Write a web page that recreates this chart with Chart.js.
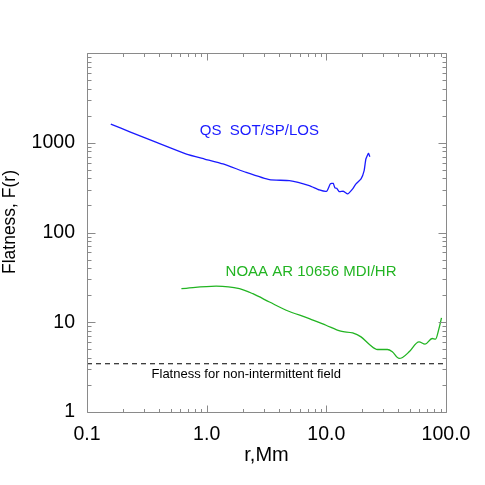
<!DOCTYPE html>
<html><head><meta charset="utf-8">
<script src="https://cdn.jsdelivr.net/npm/chart.js@4.4.1/dist/chart.umd.min.js"></script>
<style>html,body{margin:0;padding:0;background:#fff;}#wrap{width:485px;height:485px;}</style>
</head><body><div id="wrap"><canvas id="c" width="485" height="485"></canvas></div>
<script>
// ---- data ----
const qsR = [0.158, 0.228, 0.381, 0.678, 0.962, 1.37, 2.14, 3.35, 4.92, 7.2, 8.74, 10.06, 10.8, 11.4, 11.8, 12.2, 12.8, 13.9, 15.1, 16.6, 17.7, 19.5, 20.7, 21.4, 22.5, 23.1];
const qsF = [1614, 1325, 1008, 749, 659, 580, 468, 388, 378, 333, 298, 288, 348, 353, 314, 311, 285, 288, 269, 306, 348, 395, 489, 659, 761, 699];
const arR = [0.615, 1.2, 1.88, 2.43, 3.35, 4.62, 7.2, 9.94, 13.2, 16.6, 19.5, 22.8, 26.8, 32.4, 35.6, 40.6, 43.3, 49.2, 59.5, 66.8, 76.6, 81.8, 87.3, 91.7];
const arF = [23.7, 25.3, 23.7, 20.8, 16.8, 13.6, 11.0, 9.26, 7.94, 7.6, 6.87, 5.7, 4.97, 4.97, 4.68, 3.95, 4.05, 4.68, 6.04, 5.7, 6.59, 6.5, 8.5, 11.2];
const refR = [0.1, 100];
const refF = [3.45, 3.45];
const seriesNames = ['QS  SOT/SP/LOS', 'NOAA AR 10656 MDI/HR', 'Flatness for non-intermittent field'];
const xTickValues = [0.1, 1, 10, 100];
const xTickLabels = ['0.1', '1.0', '10.0', '100.0'];
const yTickValues = [1, 10, 100, 1000];
const yTickLabels = ['1', '10', '100', '1000'];
const xTitle = 'r,Mm';
const yTitle = 'Flatness, F(r)';

// ---- styling / layout ----
const FONT = "'Liberation Sans', Arial, Helvetica, sans-serif";
const FRAME = '#8a8a8a';
const BLUE = '#1a1aff';
const GREEN = '#22b422';

function pts(xs, ys){ return xs.map((x,i)=>({x:x, y:ys[i]})); }
function logTicks(min, max){
  const out = [];
  for (let e = Math.round(Math.log10(min)); e < Math.round(Math.log10(max)); e++){
    const b = Math.pow(10, e);
    for (let m = 1; m < 10; m++) out.push({value: +(m*b).toPrecision(6), major: m === 1});
  }
  out.push({value: max, major: true});
  return out;
}
function labelFor(vals, labs){
  return function(v){
    for (let i = 0; i < vals.length; i++) if (Math.abs(v - vals[i]) / vals[i] < 1e-6) return labs[i];
    return '';
  };
}

const annotations = [
  {text: seriesNames[0], x: 2.76, y: 1360, color: BLUE, size: 15},
  {text: seriesNames[1], x: 7.45, y: 36.5, color: GREEN, size: 15},
  {text: seriesNames[2], x: 2.14, y: 2.62, color: '#000', size: 13}
];

const framePlugin = {
  id: 'frameTicks',
  afterDatasetsDraw(chart){
    const {ctx, chartArea: a, scales: {x, y}} = chart;
    ctx.save();
    ctx.strokeStyle = FRAME; ctx.lineWidth = 1;
    const L = Math.round(a.left) + 0.5, R = Math.round(a.right) + 0.5;
    const T = Math.round(a.top) + 0.5, B = Math.round(a.bottom) + 0.5;
    ctx.beginPath();
    ctx.rect(L, T, R - L, B - T);
    x.ticks.forEach(t => {
      const p = Math.round(x.getPixelForValue(t.value)) + 0.5;
      const len = t.major ? 7 : 3.5;
      ctx.moveTo(p, B); ctx.lineTo(p, B - len);
      ctx.moveTo(p, T); ctx.lineTo(p, T + len);
    });
    y.ticks.forEach(t => {
      const p = Math.round(y.getPixelForValue(t.value)) + 0.5;
      const len = t.major ? 8 : 4;
      ctx.moveTo(L, p); ctx.lineTo(L + len, p);
      ctx.moveTo(R, p); ctx.lineTo(R - len, p);
    });
    ctx.stroke();
    // annotations
    ctx.textAlign = 'center'; ctx.textBaseline = 'middle';
    annotations.forEach(an => {
      ctx.fillStyle = an.color;
      ctx.font = an.size + 'px ' + FONT;
      ctx.fillText(an.text, x.getPixelForValue(an.x), y.getPixelForValue(an.y));
    });
    // y title
    ctx.save();
    ctx.translate(10, 222);
    ctx.rotate(-Math.PI/2);
    ctx.fillStyle = '#000';
    ctx.font = '17.5px ' + FONT;
    ctx.fillText(yTitle, 0, 0);
    ctx.restore();
    ctx.restore();
  }
};

new Chart(document.getElementById('c'), {
  type: 'line',
  data: {
    datasets: [
      {label: seriesNames[0], data: pts(qsR, qsF), borderColor: BLUE, borderWidth: 1.3, pointRadius: 0, tension: 0.15, fill: false},
      {label: seriesNames[1], data: pts(arR, arF), borderColor: GREEN, borderWidth: 1.3, pointRadius: 0, tension: 0.35, cubicInterpolationMode: 'monotone', fill: false},
      {label: seriesNames[2], data: pts(refR, refF), borderColor: '#000', borderWidth: 1.1, borderDash: [5, 4], pointRadius: 0, fill: false}
    ]
  },
  options: {
    responsive: false, animation: false, devicePixelRatio: 1,
    layout: {padding: {left: 0, top: 53, right: 39, bottom: 0}},
    plugins: {legend: {display: false}, tooltip: {enabled: false}},
    scales: {
      x: {
        type: 'logarithmic', min: 0.1, max: 100,
        grid: {display: false, drawTicks: false, tickLength: 0},
        border: {display: false},
        afterBuildTicks: s => { s.ticks = logTicks(0.1, 100); },
        afterFit: s => { s.height = 73; },
        ticks: {autoSkip: false, maxRotation: 0, minRotation: 0, color: '#000', padding: 11,
                font: {family: FONT, size: 19.5}, callback: labelFor(xTickValues, xTickLabels)},
        title: {display: true, text: xTitle, color: '#000', font: {family: FONT, size: 20}, padding: {top: 0, bottom: 18}}
      },
      y: {
        type: 'logarithmic', min: 1, max: 10000,
        grid: {display: false, drawTicks: false, tickLength: 0},
        border: {display: false},
        afterBuildTicks: s => { s.ticks = logTicks(1, 10000); },
        afterFit: s => { s.width = 87; },
        ticks: {autoSkip: false, color: '#000', padding: 12,
                font: {family: FONT, size: 19.5}, callback: labelFor(yTickValues, yTickLabels)}
      }
    }
  },
  plugins: [framePlugin]
});
</script></body></html>
